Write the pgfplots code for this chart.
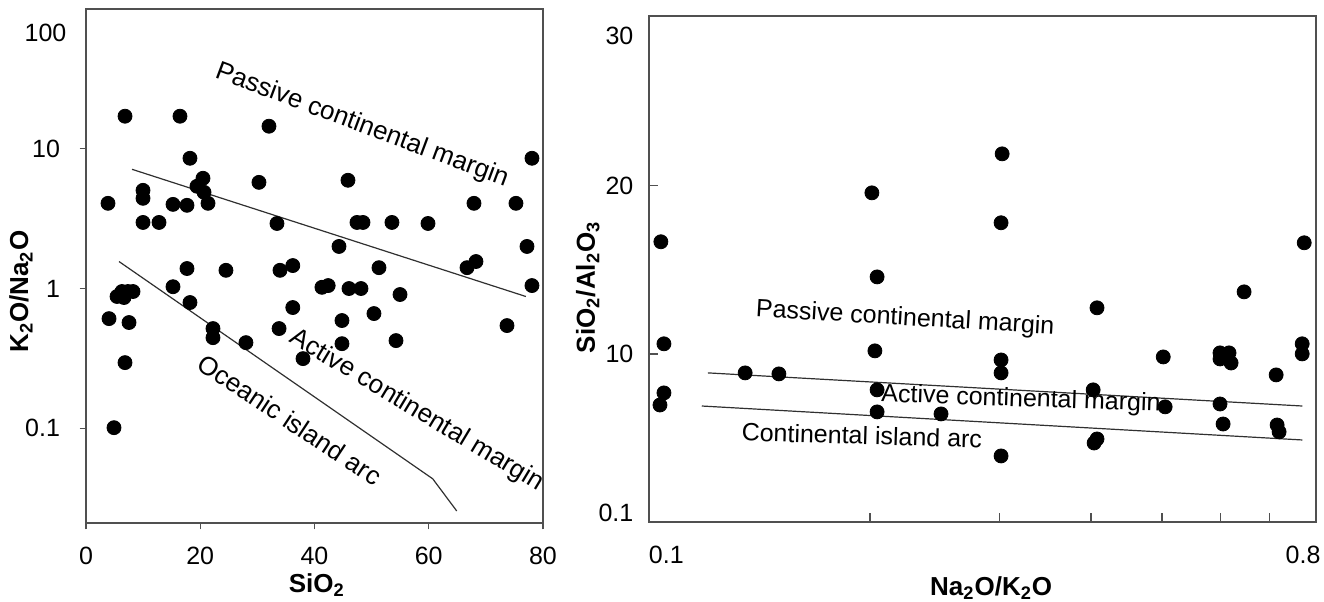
\documentclass[border=0pt]{standalone}
\usepackage{pgfplots}
\pgfplotsset{compat=1.18}
\usepackage{fontspec}
\setmainfont{Liberation Sans}
\newcommand{\tkf}{\fontsize{12.5}{15}\selectfont}
\newcommand{\lbf}{\fontsize{13}{15}\selectfont\bfseries}
\definecolor{axgray}{HTML}{505050}
\definecolor{lngray}{HTML}{303030}
\pgfplotsset{
  common/.style={
    anchor=south west, scale only axis,
    axis line style={draw=axgray, line width=0.8pt},
    tick style={draw=axgray, line width=0.7pt},
    tick pos=left,
    minor tick length=0pt,
    ticklabel style={font=\tkf},
    label style={font=\lbf, inner sep=0pt},
  },
  dots/.style={only marks, mark=*, mark size=3.5pt, black, mark options={fill=black, draw=black}},
  bound/.style={no marks, draw=lngray, line width=0.6pt},
}
\begin{document}
\begin{tikzpicture}
\useasboundingbox (0,0) rectangle (662pt,300.5pt);
% ---------------- left panel ----------------
\begin{axis}[common,
  at={(43pt,39pt)}, width=228.5pt, height=257pt,
  xmin=0, xmax=80, ymode=log, ymin=0.021, ymax=100,
  tick align=outside, major tick length=3.2pt,
  xtick={0,20,40,60,80}, xticklabels={0,20,40,60,80},
  ytick={0.1,1,10}, yticklabels={0.1,1,10},
  extra y ticks={100}, extra y tick labels={100},
  extra y tick style={major tick length=0pt, yticklabel style={yshift=-12pt}},
  xticklabel style={yshift=-5.5pt},
  yticklabel style={xshift=-6.3pt},
  xlabel={SiO\textsubscript{2}},
  ylabel={K\textsubscript{2}O/Na\textsubscript{2}O},
  xlabel style={at={(axis description cs:0.505,-0.097)}, anchor=north},
  ylabel style={at={(axis description cs:-0.116,0.45)}, anchor=south},
]
\addplot[bound] coordinates {(8.05,7.13) (77.0,0.877)};
\addplot[bound] coordinates {(5.78,1.56) (60.7,0.0435) (64.9,0.0256)};
\addplot[dots] coordinates {
(6.83,17.1) (16.45,17.1) (32.03,14.5) (18.2,8.55) (30.28,5.75) (20.48,6.15)
(19.43,5.39) (20.66,4.88) (3.85,4.07) (9.98,5.04) (9.98,4.42) (15.23,4.0)
(17.68,3.94) (21.36,4.07) (9.98,2.97) (12.78,2.97) (33.43,2.92) (17.68,1.39)
(24.5,1.35) (33.96,1.35) (36.2,1.46) (15.23,1.03) (41.3,1.02) (42.4,1.05)
(5.43,0.877) (6.30,0.952) (7.35,0.952) (8.23,0.952) (6.65,0.862)
(4.03,0.609) (7.53,0.571) (6.83,0.295) (4.9,0.101) (18.2,0.794) (22.23,0.517)
(22.23,0.445) (28.0,0.41) (33.8,0.517) (36.2,0.731) (37.99,0.315)
(78.07,8.55) (45.86,5.95) (67.92,4.07) (75.27,4.07) (47.44,2.97) (48.49,2.97)
(53.56,2.97) (59.87,2.92) (44.29,2.0) (77.2,2.0) (51.29,1.41) (66.7,1.41)
(68.27,1.56) (78.07,1.05) (46.04,1.0) (48.14,1.0) (54.97,0.906) (44.81,0.59)
(50.41,0.662) (44.81,0.403) (54.27,0.424) (73.7,0.543)
};
\node[font=\fontsize{13}{15}\selectfont, rotate=-20.5] at (axis cs:48.3,14.6) {Passive continental margin};
\node[font=\fontsize{13}{15}\selectfont, rotate=-31] at (axis cs:57.9,0.1335) {Active continental margin};
\node[font=\fontsize{13}{15}\selectfont, rotate=-33.5] at (axis cs:35.7,0.115) {Oceanic island arc};
\end{axis}
% ---------------- right panel ----------------
\begin{axis}[common,
  at={(324.5pt,39.5pt)}, width=333.5pt, height=253pt,
  xmode=log, xmin=0.1, xmax=0.81, ymin=0, ymax=30.1,
  tick align=inside, major tick length=4.5pt,
  xtick={0.2,0.3,0.4,0.5,0.6,0.7}, xticklabels={},
  extra x ticks={0.1,0.8},
  extra x tick labels={\makebox[0pt][l]{0.1},\makebox[0pt]{\hspace{-9pt}0.8}},
  extra x tick style={major tick length=0pt, xticklabel style={yshift=-8.3pt}},
  ytick={10,20}, yticklabels={10,20},
  extra y ticks={0,30},
  extra y tick labels={\raisebox{5pt}[9pt][0pt]{0.1},\raisebox{-9pt}[9pt][0pt]{30}},
  extra y tick style={major tick length=0pt},
  yticklabel style={xshift=-4.3pt},
  xlabel={Na\textsubscript{2}O/K\textsubscript{2}O},
  ylabel={SiO\textsubscript{2}/Al\textsubscript{2}O\textsubscript{3}},
  xlabel style={at={(axis description cs:0.513,-0.107)}, anchor=north},
  ylabel style={at={(axis description cs:-0.0735,0.464)}, anchor=south},
]
\addplot[bound] coordinates {(0.1203,8.87) (0.776,6.90)};
\addplot[bound] coordinates {(0.118,6.90) (0.776,4.88)};
\addplot[dots] coordinates {
(0.1038,16.67) (0.1048,10.6) (0.1048,7.68) (0.1035,6.96) (0.1352,8.87) (0.1503,8.81)
(0.2012,19.58) (0.2045,14.58) (0.2031,10.18) (0.2045,7.86) (0.2045,6.55) (0.2499,6.43)
(0.3027,21.9) (0.3017,17.8) (0.3017,9.64) (0.3017,8.87) (0.3017,3.93)
(0.4076,12.74) (0.4027,7.86) (0.4076,4.94) (0.4039,4.70)
(0.5017,9.82) (0.5047,6.85) (0.5995,10.06) (0.6167,10.06) (0.5995,9.70) (0.6207,9.46)
(0.5995,7.02) (0.6053,5.83) (0.6465,13.69) (0.7149,8.75) (0.7171,5.77) (0.7216,5.36)
(0.7808,16.61) (0.7758,10.6) (0.7758,10.0)
};
\node[font=\tkf, rotate=-3.4] at (axis cs:0.2233,12.08) {Passive continental margin};
\node[font=\tkf, rotate=-2] at (axis cs:0.3211,7.26) {Active continental margin};
\node[font=\tkf, rotate=-1.7] at (axis cs:0.195,5.15) {Continental island arc};
\end{axis}
\end{tikzpicture}
\end{document}
